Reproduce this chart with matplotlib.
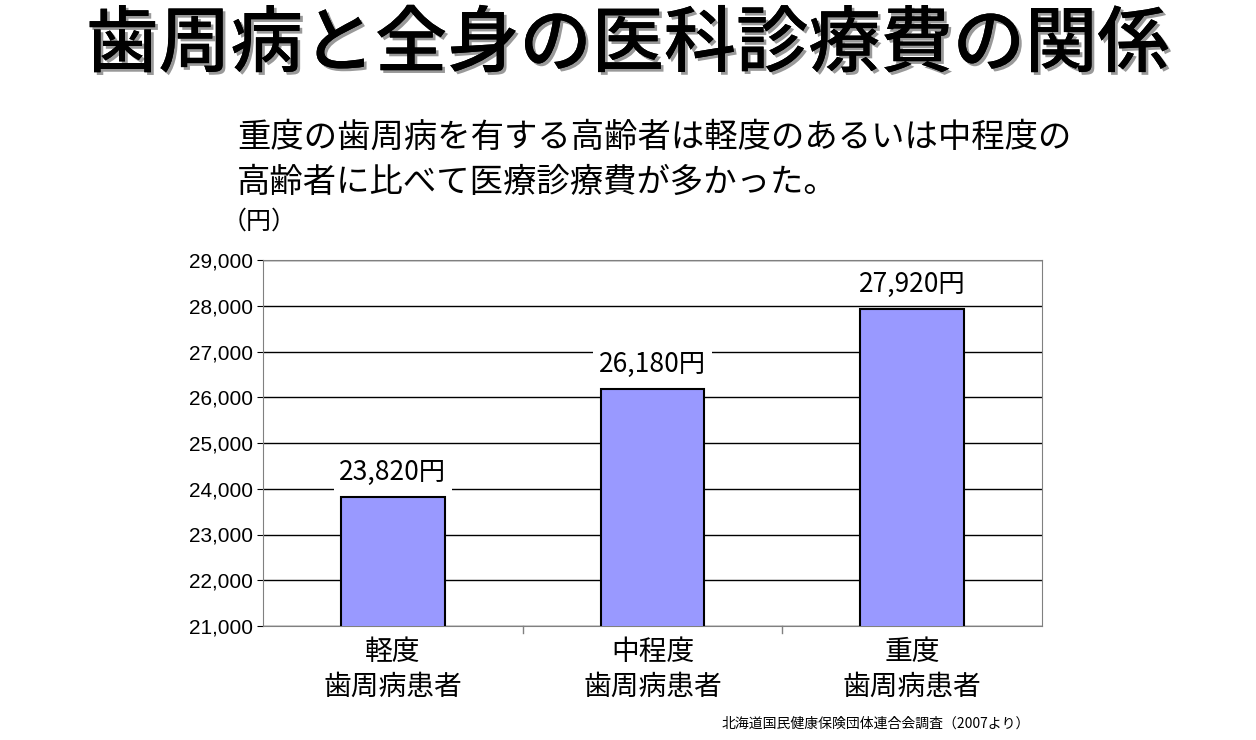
import matplotlib
matplotlib.use("Agg")
import matplotlib.pyplot as plt
import matplotlib.patheffects as pe

plt.rcParams["font.family"] = "Noto Sans CJK JP"

categories = ["軽度\n歯周病患者", "中程度\n歯周病患者", "重度\n歯周病患者"]
values = [23820, 26180, 27920]
value_labels = ["23,820円", "26,180円", "27,920円"]
yticks = [21000, 22000, 23000, 24000, 25000, 26000, 27000, 28000, 29000]

fig = plt.figure(figsize=(12.56, 7.4), dpi=100)
ax = fig.add_axes([263/1256, 1-626/740, 779/1256, 366/740])

x = range(len(values))
ax.bar(x, values, width=0.4, color="#9999ff", edgecolor="black", linewidth=1.5, zorder=3)
ax.set_ylim(21000, 29000)
ax.set_xlim(-0.5, 2.5)
ax.set_yticks(yticks)
ax.set_yticklabels([f"{v:,}" for v in yticks], fontsize=15, fontfamily="Liberation Sans")
ax.yaxis.grid(True, color="black", linewidth=1, zorder=0)
ax.set_xticks(list(x))
ax.set_xticklabels(categories, fontsize=20, linespacing=1.2)
ax.tick_params(axis="x", length=0, pad=8)
ax.tick_params(axis="y", length=4)
for xx in [0.5, 1.5]:
    ax.plot([xx, xx], [21000, 20850], color="gray", lw=1, clip_on=False)
for s in ax.spines.values():
    s.set_color("gray")

for i, (v, lab) in enumerate(zip(values, value_labels)):
    ax.text(i, v + 250, lab, ha="center", va="bottom", fontsize=19, zorder=4,
            bbox=dict(facecolor="white", edgecolor="none", pad=4))

fig.text(0.5, 1-45/740, "歯周病と全身の医科診療費の関係", ha="center", va="center",
         fontsize=52, fontweight="medium",
         path_effects=[pe.withSimplePatchShadow(offset=(2, -2), alpha=0.4), pe.Normal()])
fig.text(237/1256, 1-137/740, "重度の歯周病を有する高齢者は軽度のあるいは中程度の", ha="left", va="center", fontsize=24)
fig.text(237/1256, 1-182/740, "高齢者に比べて医療診療費が多かった。", ha="left", va="center", fontsize=24)
fig.text(222/1256, 1-222/740, "（円）", ha="left", va="center", fontsize=18)
fig.text(1030/1256, 1-724/740, "北海道国民健康保険団体連合会調査（2007より）", ha="right", va="center", fontsize=10)

fig.savefig("out.png", dpi=100)
